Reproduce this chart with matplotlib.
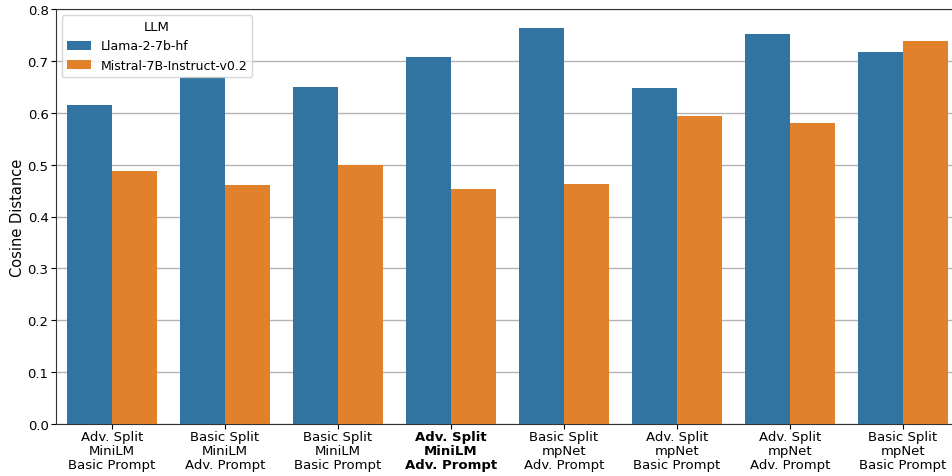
import numpy as np
import pandas as pd
import matplotlib
matplotlib.use("Agg")
import matplotlib.pyplot as plt
import seaborn as sns

plt.rcParams.update({'font.size': 9.5})

configs = ["Adv. Split\nMiniLM\nBasic Prompt",
           "Basic Split\nMiniLM\nAdv. Prompt",
           "Basic Split\nMiniLM\nBasic Prompt",
           "Adv. Split\nMiniLM\nAdv. Prompt",
           "Basic Split\nmpNet\nAdv. Prompt",
           "Adv. Split\nmpNet\nBasic Prompt",
           "Adv. Split\nmpNet\nAdv. Prompt",
           "Basic Split\nmpNet\nBasic Prompt"]
llms = ["Llama-2-7b-hf", "Mistral-7B-Instruct-v0.2"]
llama = [0.615, 0.669, 0.650, 0.708, 0.763, 0.648, 0.752, 0.717]
mistral = [0.488, 0.461, 0.499, 0.453, 0.463, 0.594, 0.580, 0.738]

df = pd.DataFrame({
    "Config": configs * 2,
    "LLM": [llms[0]] * len(configs) + [llms[1]] * len(configs),
    "Cosine Distance": llama + mistral,
})

fig = plt.figure(figsize=(9.52, 4.77), dpi=100)
ax = fig.add_axes([55.5 / 952, 52 / 477, 904 / 952, 415 / 477])
sns.barplot(data=df, x="Config", y="Cosine Distance", hue="LLM", ax=ax,
            order=configs, hue_order=llms, zorder=3)
ax.set_ylim(0, 0.8)
ax.set_yticks(np.arange(0, 0.81, 0.1))
ax.yaxis.grid(True, color='#b4b4b4', linewidth=1, zorder=0)
ax.set_axisbelow(True)
ax.set_xlabel("")
ax.set_ylabel("Cosine Distance", fontsize=10.5, labelpad=2)
ax.tick_params(axis='x', labelsize=9.5, pad=1)
ax.tick_params(axis='y', labelsize=9.5, pad=1.5)
for t in ax.get_xticklabels():
    t.set_linespacing(1.1)
ax.get_xticklabels()[3].set_fontweight('bold')
for s in ax.spines.values():
    s.set_color('#333333')
leg = ax.legend(title="LLM", loc="upper left", fontsize=9, title_fontsize=9.5,
                handlelength=1.9)

fig.savefig("out.png", dpi=100)
